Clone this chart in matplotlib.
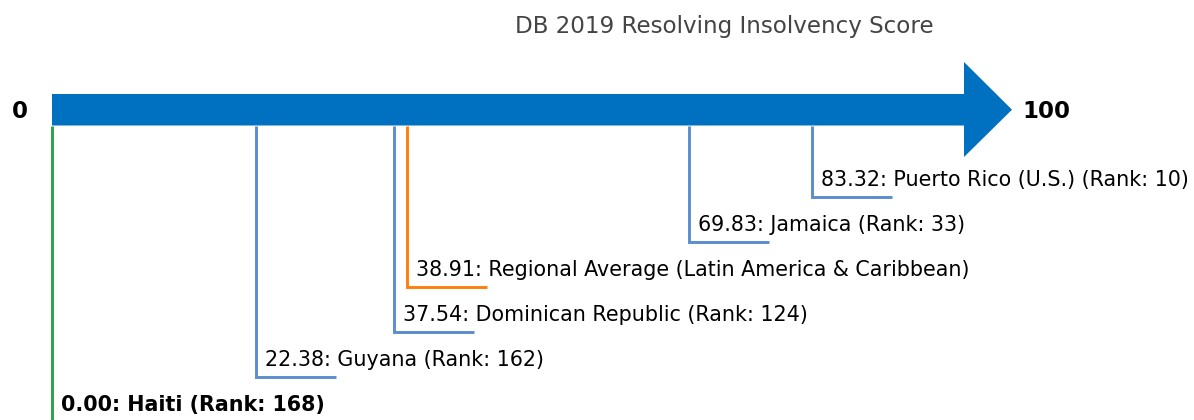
import matplotlib
matplotlib.use("Agg")
import matplotlib.pyplot as plt
from matplotlib.patches import Polygon

title = "DB 2019 Resolving Insolvency Score"
names = ["Puerto Rico (U.S.)", "Jamaica", "Regional Average (Latin America & Caribbean)",
         "Dominican Republic", "Guyana", "Haiti"]
scores = [83.32, 69.83, 38.91, 37.54, 22.38, 0.00]
ranks = [10, 33, None, 124, 162, 168]
kinds = ["peer", "peer", "avg", "peer", "peer", "focus"]

colors = {"peer": "#5b8dd0", "avg": "#ff7f0e", "focus": "#2ca24a"}
ARROW = "#0070c0"

W, H = 1194, 420
fig = plt.figure(figsize=(W / 100, H / 100), dpi=100)
ax = fig.add_axes([0, 0, 1, 1])
ppu = 9.12            # pixels per score unit
x0 = 52               # pixel of score 0
ax.set_xlim(-x0 / ppu, (W - x0) / ppu)
ax.set_ylim(H, 0)
ax.axis("off")

# arrow
body_top, body_bot = 94, 125.5
head_top, head_bot, mid = 62, 157, 109.7
tip = 100 + (1012 - 964) / ppu
ax.add_patch(Polygon([(0, body_top), (100, body_top), (100, head_top), (tip, mid),
                      (100, head_bot), (100, body_bot), (0, body_bot)],
                     closed=True, facecolor=ARROW, edgecolor="none", zorder=3))

ax.text(-24 / ppu, 118.3, "0", ha="right", va="baseline", fontsize=16.5,
        fontweight="bold", color="black")
ax.text(tip + 10 / ppu, 118.3, "100", ha="left", va="baseline", fontsize=16.5,
        fontweight="bold", color="black")

ax.text((724 - x0) / ppu, 33.3, title, ha="center", va="baseline", fontsize=16.6,
        color="#444444")

tail = 80 / ppu
for i, (n, s, r, k) in enumerate(zip(names, scores, ranks, kinds)):
    y = 197 + 45 * i
    c = colors[k]
    ax.plot([s, s, s + tail], [body_bot, y, y], color=c, lw=2.1, zorder=2,
            solid_joinstyle="miter", solid_capstyle="butt")
    label = f"{s:.2f}: {n}" + (f" (Rank: {r})" if r is not None else "")
    ax.text(s + 8.7 / ppu, y - 10.8, label, ha="left", va="baseline",
            fontsize=14.9, color="black",
            fontweight="bold" if k == "focus" else "normal")

fig.savefig("out.png", dpi=100)
